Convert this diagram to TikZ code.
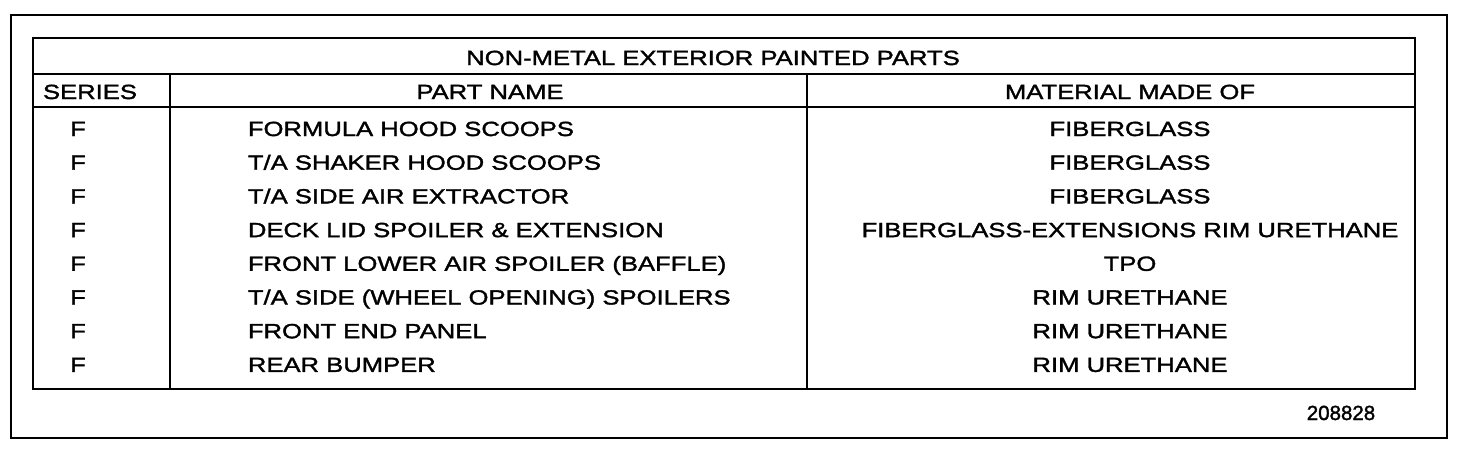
\documentclass[tikz,border=0pt]{standalone}
\usepackage{fontspec}
\setmainfont{Liberation Sans}[FakeStretch=1.25,FakeBold=1.6]
\newfontfamily\fignum{Liberation Sans}[FakeBold=1.6]
\usetikzlibrary{positioning}

\begin{document}
\begin{tikzpicture}[
    x=1pt, y=-1pt,
    line width=1.8pt,
    font=\fontsize{20.5}{24}\selectfont
]
\tikzset{
    cell/.style = {anchor=base, inner sep=0pt},
    namecell/.style = {anchor=base west, inner sep=0pt},
    rule/.style = {line width=1.6pt}
}
\useasboundingbox (0,0) rectangle (1459,450);
% frame and table corners
\coordinate (fa) at (11,15);
\coordinate (fb) at (1447,438);
\coordinate (ta) at (33,38);
\coordinate (tb) at (1415,389);
\coordinate (ha) at (33,74);
\coordinate (hb) at (1415,74);
\coordinate (ka) at (33,107);
\coordinate (kb) at (1415,107);
\coordinate (sa) at (170,74);
\coordinate (sb) at (170,389);
\coordinate (ma) at (807,74);
\coordinate (mb) at (807,389);
\draw (fa) rectangle (fb);
\draw[rule] (ta) rectangle (tb);
\draw[rule] (ha) -- (hb);
\draw[rule] (ka) -- (kb);
\draw[rule] (sa) -- (sb);
\draw[rule] (ma) -- (mb);
% headings
\node[cell] at (713,65) (title) {NON-METAL EXTERIOR PAINTED PARTS};
\node[cell] at (90,99) (hser) {SERIES};
\node[cell] at (490,99) (hpart) {PART NAME};
\node[cell] at (1130,99) (hmat) {MATERIAL MADE OF};
% rows
\node[cell] at (78,136) (s1) {F};
\node[namecell] at (247,136) (p1) {FORMULA HOOD SCOOPS};
\node[cell] at (1130,136) (m1) {FIBERGLASS};
\node[cell] at (78,169.7) (s2) {F};
\node[namecell] at (247,169.7) (p2) {T/A SHAKER HOOD SCOOPS};
\node[cell] at (1130,169.7) (m2) {FIBERGLASS};
\node[cell] at (78,203.4) (s3) {F};
\node[namecell] at (247,203.4) (p3) {T/A SIDE AIR EXTRACTOR};
\node[cell] at (1130,203.4) (m3) {FIBERGLASS};
\node[cell] at (78,237.1) (s4) {F};
\node[namecell] at (247,237.1) (p4) {DECK LID SPOILER \& EXTENSION};
\node[cell] at (1130,237.1) (m4) {FIBERGLASS-EXTENSIONS RIM URETHANE};
\node[cell] at (78,270.8) (s5) {F};
\node[namecell] at (247,270.8) (p5) {FRONT LOWER AIR SPOILER (BAFFLE)};
\node[cell] at (1130,270.8) (m5) {TPO};
\node[cell] at (78,304.5) (s6) {F};
\node[namecell] at (247,304.5) (p6) {T/A SIDE (WHEEL OPENING) SPOILERS};
\node[cell] at (1130,304.5) (m6) {RIM URETHANE};
\node[cell] at (78,338.2) (s7) {F};
\node[namecell] at (247,338.2) (p7) {FRONT END PANEL};
\node[cell] at (1130,338.2) (m7) {RIM URETHANE};
\node[cell] at (78,371.9) (s8) {F};
\node[namecell] at (247,371.9) (p8) {REAR BUMPER};
\node[cell] at (1130,371.9) (m8) {RIM URETHANE};
% figure number
\node[cell, font=\fignum\fontsize{20.5}{24}\selectfont] at (1341,420) (fig) {208828};
\end{tikzpicture}
\end{document}
